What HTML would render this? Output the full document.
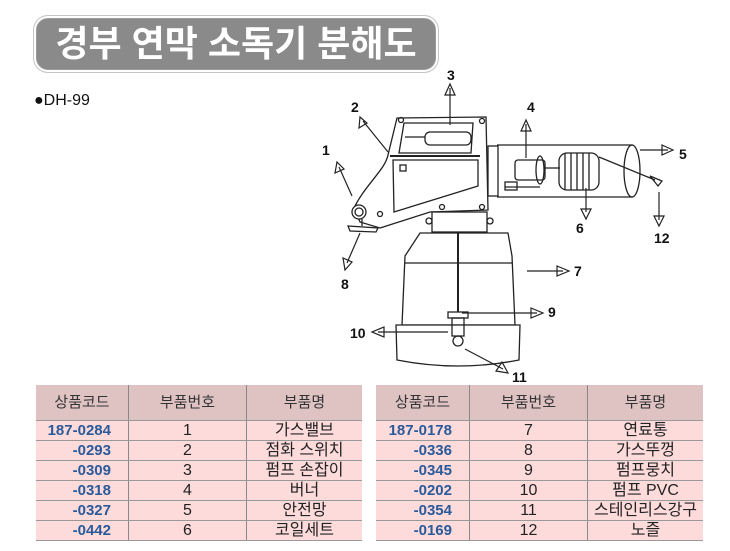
<!DOCTYPE html>
<html><head><meta charset="utf-8"><style>
body{margin:0;width:730px;height:551px;background:#fff;position:relative;overflow:hidden;font-family:"Liberation Sans","Noto Sans CJK KR",sans-serif}
.title{position:absolute;left:36px;top:18px;width:398px;height:50px;background:#8a8a8a;border:1px solid #9a9a9a;border-radius:12px;box-shadow:0 0 0 2px #fff,0 0 0 3px #c4c4c4;color:#fff;font-size:36px;font-weight:bold;text-align:center;line-height:50px;letter-spacing:0}
.dh{position:absolute;left:34px;top:92px;font-size:16px;color:#111}
table{position:absolute;border-collapse:collapse;font-size:16px;color:#222}
td,th{border-bottom:1px solid #999;padding:0;text-align:center;height:19px;line-height:19px}
th{background:#dfc3c3;font-weight:normal;height:35px;font-size:15px;color:#333}
td{background:#fddbdb}
td.c{color:#2a5a9a;font-weight:bold;text-align:right;padding-right:17px;font-size:15px}
tr>*+*{border-left:1px solid #888}
svg{position:absolute;left:0;top:0}
</style></head><body>
<div class="title">경부 연막 소독기 분해도</div>
<div class="dh">●DH-99</div>
<svg width="730" height="551" viewBox="0 0 730 551" fill="none" stroke="#222" stroke-width="1.3">
<path d="M397 118 L486 117 L488 210 L430 212 L380 228 L360 222 L354 208 C365 185 385 170 388 155 Z" fill="#fff"/>
<path d="M404 123 L473 123 L471 153 L399 153 Z"/>
<rect x="425" y="132" width="46" height="13" rx="5"/>
<line x1="405" y1="137" x2="425" y2="137"/>
<line x1="390" y1="156" x2="480" y2="156" stroke-width="2"/>
<path d="M393 160 L478 160 L478 186 L394 212 Z"/>
<rect x="400" y="165" width="6" height="6"/>
<circle cx="401" cy="120" r="2.5"/><circle cx="482" cy="121" r="2.5"/>
<circle cx="442" cy="207" r="2.5"/><circle cx="482" cy="207" r="2.5"/><circle cx="380" cy="214" r="2.5"/>
<circle cx="359" cy="212" r="7" fill="#fff"/><circle cx="359" cy="212" r="4"/>
<path d="M348 226 L378 228 L376 232 L350 231 Z" fill="#fff"/>
<line x1="362" y1="219" x2="362" y2="226"/>
<rect x="488" y="146" width="10" height="50"/>
<path d="M497 145 L632 145 L632 197 L497 197"/>
<ellipse cx="632" cy="171" rx="8" ry="26" fill="#fff"/>
<rect x="515" y="160" width="30" height="20" rx="3"/>
<ellipse cx="540" cy="170" rx="4" ry="14"/>
<line x1="545" y1="168" x2="560" y2="168"/>
<line x1="505" y1="187" x2="540" y2="187"/>
<rect x="505" y="182" width="12" height="8"/>
<rect x="559" y="153" width="40" height="37" rx="8"/>
<path d="M565 153v37M571 153v37M577 153v37M583 153v37M589 153v37"/>
<line x1="599" y1="157" x2="655" y2="180"/>
<path d="M650 176 L662 181 L658 186 Z"/>
<rect x="432" y="212" width="55" height="20"/>
<circle cx="429" cy="221" r="3"/><circle cx="490" cy="221" r="3"/>
<path d="M420 233 L508 233 L512 256 L515 325 L402 325 L405 256 Z" fill="#fff"/>
<line x1="405" y1="263" x2="512" y2="263"/>
<path d="M396 325 L520 325 L519 360 Q458 372 397 360 Z" fill="#fff"/>
<line x1="458" y1="232" x2="458" y2="312" stroke-width="2"/>
<rect x="448" y="312" width="20" height="6"/>
<rect x="452" y="318" width="12" height="18"/>
<circle cx="458" cy="341" r="5"/>
<g stroke-width="1.2">
<path d="M450 125 V88 M445 95 L450 84 L455 95 Z"/>
<path d="M388 152 L363 121 M359 128 L360 117 L367 123 Z"/>
<path d="M526 158 V124 M521 131 L526 120 L531 131 Z"/>
<path d="M352 196 L339 167 M335 173 L337 162 L344 169 Z"/>
<path d="M640 150 H668 M662 145 L673 150 L662 155 Z"/>
<path d="M586 188 V212 M581 209 L586 219 L591 209 Z"/>
<path d="M659 192 V220 M654 216 L659 226 L664 216 Z"/>
<path d="M527 271 H563 M557 266 L569 271 L557 276 Z"/>
<path d="M360 233 L347 263 M343 258 L345 270 L352 262 Z"/>
<path d="M462 313 H537 M531 308 L543 313 L531 318 Z"/>
<path d="M448 332 H378 M384 327 L372 332 L384 337 Z"/>
<path d="M465 349 L503 369 M502 362 L508 373 L496 371 Z"/>
</g>
<g fill="#111" stroke="none" font-family="Liberation Sans,sans-serif" font-weight="bold" font-size="14">
<text x="447" y="80">3</text><text x="351" y="112">2</text><text x="527" y="112">4</text>
<text x="322" y="155">1</text><text x="679" y="159">5</text><text x="576" y="233">6</text>
<text x="654" y="243">12</text><text x="574" y="276">7</text><text x="341" y="289">8</text>
<text x="548" y="317">9</text><text x="350" y="338">10</text><text x="512" y="382">11</text>
</g>
</svg>
<table style="left:36px;top:385px;width:326px">
<tr><th style="width:92px">상품코드</th><th style="width:117px">부품번호</th><th>부품명</th></tr>
<tr><td class="c">187-0284</td><td>1</td><td>가스밸브</td></tr>
<tr><td class="c">-0293</td><td>2</td><td>점화 스위치</td></tr>
<tr><td class="c">-0309</td><td>3</td><td>펌프 손잡이</td></tr>
<tr><td class="c">-0318</td><td>4</td><td>버너</td></tr>
<tr><td class="c">-0327</td><td>5</td><td>안전망</td></tr>
<tr><td class="c">-0442</td><td>6</td><td>코일세트</td></tr>
</table>
<table style="left:376px;top:385px;width:327px">
<tr><th style="width:93px">상품코드</th><th style="width:117px">부품번호</th><th>부품명</th></tr>
<tr><td class="c">187-0178</td><td>7</td><td>연료통</td></tr>
<tr><td class="c">-0336</td><td>8</td><td>가스뚜껑</td></tr>
<tr><td class="c">-0345</td><td>9</td><td>펌프뭉치</td></tr>
<tr><td class="c">-0202</td><td>10</td><td>펌프 PVC</td></tr>
<tr><td class="c">-0354</td><td>11</td><td>스테인리스강구</td></tr>
<tr><td class="c">-0169</td><td>12</td><td>노즐</td></tr>
</table>
</body></html>
